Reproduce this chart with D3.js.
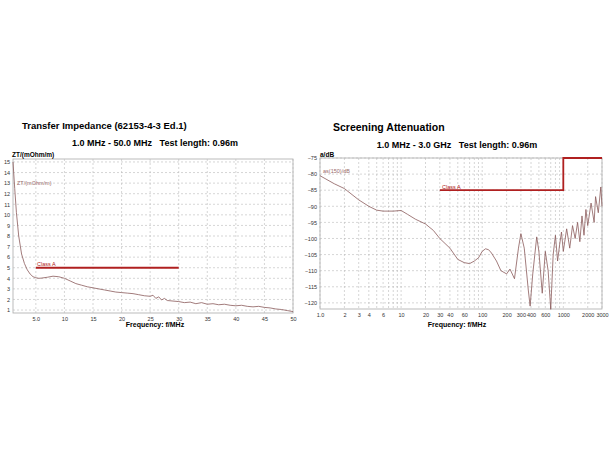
<!DOCTYPE html><html><head><meta charset="utf-8">
<script src="https://cdn.jsdelivr.net/npm/d3@7"></script>
<style>body{margin:0;background:#fff}text{font-family:Arial,"Liberation Sans",sans-serif;white-space:pre}</style></head><body>
<svg id="c" width="610" height="450"></svg>
<script>
// Left chart: Transfer impedance
const ztFreq = [1,1.3,1.6,2,2.5,3,3.5,4,4.5,5,5.5,6,7,8,9,10,11,12,13,14,15,16,17,18,19,20,21,22,23,24,25,25.5,26,26.5,27,27.5,28,29,30,31,32,33,34,35,36,37,38,39,40,41,42,43,44,45,46,47,48,49,50];
const ztVal  = [15,12.5,10.2,8.0,6.3,5.4,4.8,4.4,4.15,4.05,4.0,4.02,4.1,4.2,4.15,4.0,3.75,3.5,3.35,3.2,3.1,3.0,2.9,2.8,2.7,2.65,2.6,2.55,2.45,2.35,2.3,2.4,2.1,2.25,1.95,2.1,1.9,1.85,1.8,1.7,1.75,1.6,1.7,1.55,1.6,1.5,1.55,1.45,1.4,1.45,1.35,1.3,1.35,1.25,1.2,1.1,1.05,0.95,0.85];
const ztClassF = [5,30], ztClassV = [5,5];
const ztYTicks = [1,2,3,4,5,6,7,8,9,10,11,12,13,14,15];
const ztXTicks = [5,10,15,20,25,30,35,40,45,50];
const ztXLabels = ["5.0","10","15","20","25","30","35","40","45","50"];
// Right chart: Screening attenuation
const saFreq = [1,1.5,2,3,4,5,6,8,10,12,15,20,25,30,40,50,60,70,80,90,100,110,120,130,150,170,200,220,250,280,300,330,370,390,420,470,500,550,600,650,700,750,800,850,900,950,1000,1100,1200,1300,1400,1500,1600,1700,1800,1900,2000,2200,2400,2500,2700,2900,3000];
const saVal  = [-80.5,-83,-84.5,-88,-90,-91.2,-91.5,-91.5,-91.3,-92.5,-94,-95.5,-97.5,-100,-103,-106.5,-107.5,-107.8,-107,-106,-104,-103.2,-103.5,-104.5,-107,-110,-111,-109.5,-112.5,-103,-98.5,-103,-116,-121,-111,-99.5,-104,-117,-104,-110,-122,-105,-99,-107,-102,-98,-104,-97,-103,-96,-100,-95,-101,-93,-99,-91,-96,-89,-95,-87,-92,-84,-90];
const saClassF = [30,1000,1000,3000], saClassV = [-85,-85,-75,-75];
const saYTicks = [-75,-80,-85,-90,-95,-100,-105,-110,-115,-120];
const saXTicks = [1,2,3,4,6,10,20,30,40,60,100,200,300,400,600,1000,2000,3000];
const saXLabels = ["1.0","2","3","4","6","10","20","30","40","60","100","200","300","400","600","1000","2000","3000"];

const svg = d3.select("#c");
const curveC = "#8a5a5a", classC = "#b02020";
function txt(x,y,s,size,opt={}){return svg.append("text").attr("x",x).attr("y",y).attr("xml:space","preserve").text(s).attr("font-size",size)
  .attr("font-weight",opt.b?"bold":null).attr("fill",opt.f||"#000").attr("text-anchor",opt.a||"start");}

function panel(o){
  const g = svg.append("g");
  g.append("rect").attr("x",o.x0).attr("y",o.y0).attr("width",o.x1-o.x0).attr("height",o.y1-o.y0).attr("fill","#fff").attr("stroke","#aaa").attr("stroke-width",0.8);
  o.gridX.forEach(v=>g.append("line").attr("x1",o.xs(v)).attr("x2",o.xs(v)).attr("y1",o.y0).attr("y2",o.y1).attr("stroke","#bbb").attr("stroke-width",0.6).attr("stroke-dasharray","2,2"));
  o.yTicks.forEach(v=>g.append("line").attr("x1",o.x0).attr("x2",o.x1).attr("y1",o.ys(v)).attr("y2",o.ys(v)).attr("stroke","#bbb").attr("stroke-width",0.6).attr("stroke-dasharray","2,2"));
  const ya = g.append("g").attr("transform",`translate(${o.x0},0)`).call(d3.axisLeft(o.ys).tickValues(o.yTicks).tickSize(0).tickPadding(3));
  ya.select(".domain").remove(); ya.selectAll("text").attr("font-size",5.5).attr("fill","#333");
  const xa = g.append("g").attr("transform",`translate(0,${o.y1})`).call(d3.axisBottom(o.xs).tickValues(o.xTicks).tickSize(0).tickPadding(4).tickFormat((d,i)=>o.xLabels[i]));
  xa.select(".domain").remove(); xa.selectAll("text").attr("font-size",5.5).attr("fill","#333");
  const line = d3.line().x(d=>o.xs(d[0])).y(d=>o.ys(d[1]));
  g.append("path").datum(o.cf.map((f,i)=>[f,o.cv[i]])).attr("d",line).attr("fill","none").attr("stroke",classC).attr("stroke-width",1.8);
  g.append("path").datum(o.f.map((f,i)=>[f,o.v[i]])).attr("d",line).attr("fill","none").attr("stroke",curveC).attr("stroke-width",0.8);
}

// Left
const lxs = d3.scaleLinear().domain([1,50]).range([13,293]);
const lys = d3.scaleLinear().domain([0.72,15.28]).range([313,159]);
panel({x0:13,x1:293,y0:159,y1:313,xs:lxs,ys:lys,gridX:ztXTicks,yTicks:ztYTicks,xTicks:ztXTicks,xLabels:ztXLabels,f:ztFreq,v:ztVal,cf:ztClassF,cv:ztClassV});
txt(22,129,"Transfer Impedance (62153-4-3 Ed.1)",9.5,{b:1});
txt(155,146,"1.0 MHz - 50.0 MHz   Test length: 0.96m",9,{b:1,a:"middle"});
txt(12,157,"ZT/(mOhm/m)",6.5,{b:1});
txt(17,185,"ZT/(mOhm/m)",5.5,{f:"#9a6a6a"});
txt(37,266,"Class A",5.5,{f:classC});
txt(155,327,"Frequency: f/MHz",7,{b:1,a:"middle"});

// Right
const rxs = d3.scaleLog().domain([1,3000]).range([320,602]);
const rys = d3.scaleLinear().domain([-121.9,-75]).range([309,158]);
const minor=[]; [1,10,100,1000].forEach(d=>{for(let k=1;k<10;k++){const v=d*k; if(v<=3000) minor.push(v);}});
panel({x0:320,x1:602,y0:158,y1:309,xs:rxs,ys:rys,gridX:minor,yTicks:saYTicks,xTicks:saXTicks,xLabels:saXLabels,f:saFreq,v:saVal,cf:saClassF,cv:saClassV});
txt(333,131,"Screening Attenuation",10.5,{b:1});
txt(457,148,"1.0 MHz - 3.0 GHz   Test length: 0.96m",9,{b:1,a:"middle"});
txt(320,157,"a/dB",6.5,{b:1});
txt(323,173,"as(150)/dB",5.5,{f:"#9a6a6a"});
txt(442,189,"Class A",5.5,{f:classC});
txt(457,327,"Frequency: f/MHz",7,{b:1,a:"middle"});
</script></body></html>
